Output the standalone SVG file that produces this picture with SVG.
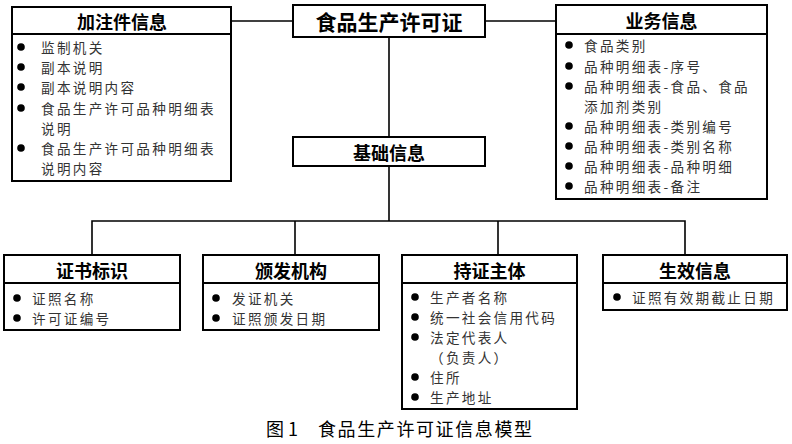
<svg xmlns="http://www.w3.org/2000/svg" width="792" height="444" viewBox="0 0 792 444">
<style>
.box{fill:#fff;stroke:#000;stroke-width:2}
.div{stroke:#000;stroke-width:2}
.ln{stroke:#000;stroke-width:1.6;fill:none}
.t{font-family:"Noto Sans CJK SC","Noto Sans",sans-serif;font-weight:bold;fill:#000;text-anchor:middle;dominant-baseline:central}
.it{font-family:"Noto Sans CJK SC","Noto Sans",sans-serif;font-size:13.6px;letter-spacing:2.3px;fill:#333;dominant-baseline:central}
.b{fill:#000}
.cap{font-family:"Noto Sans CJK SC","Noto Sans",sans-serif;font-size:18px;fill:#000;dominant-baseline:central}
</style>
<rect width="792" height="444" fill="#fff"/>
<g id="connectors">
<line class="ln" x1="231" y1="21" x2="293" y2="21"/>
<line class="ln" x1="485" y1="21" x2="556" y2="21"/>
<line class="ln" x1="389" y1="37" x2="389" y2="137"/>
<line class="ln" x1="389" y1="166" x2="389" y2="221"/>
<polyline class="ln" points="92,255 92,221 685,221 685,255"/>
<line class="ln" x1="295" y1="221" x2="295" y2="255"/>
<line class="ln" x1="498" y1="221" x2="498" y2="255"/>
</g>
<g id="jiazhujian">
<rect class="box" x="12" y="7" width="219" height="174"/>
<line class="div" x1="12" y1="34" x2="231" y2="34"/>
<text class="t" x="122" y="21" font-size="18">加注件信息</text>
<circle class="b" cx="21" cy="47" r="3.8"/><text class="it" x="41" y="47">监制机关</text>
<circle class="b" cx="21" cy="67" r="3.8"/><text class="it" x="41" y="67">副本说明</text>
<circle class="b" cx="21" cy="87" r="3.8"/><text class="it" x="41" y="87">副本说明内容</text>
<circle class="b" cx="21" cy="108" r="3.8"/><text class="it" x="41" y="108">食品生产许可品种明细表</text>
<text class="it" x="41" y="128">说明</text>
<circle class="b" cx="21" cy="148" r="3.8"/><text class="it" x="41" y="148">食品生产许可品种明细表</text>
<text class="it" x="41" y="168">说明内容</text>
</g>
<g id="root">
<rect class="box" x="293" y="5" width="192" height="32"/>
<text class="t" x="389" y="21" font-size="21">食品生产许可证</text>
</g>
<g id="yewu">
<rect class="box" x="556" y="5" width="211" height="194"/>
<line class="div" x1="556" y1="34" x2="767" y2="34"/>
<text class="t" x="661.5" y="20" font-size="18">业务信息</text>
<circle class="b" cx="569" cy="45" r="3.8"/><text class="it" x="584" y="45">食品类别</text>
<circle class="b" cx="569" cy="66" r="3.8"/><text class="it" x="584" y="66">品种明细表-序号</text>
<circle class="b" cx="569" cy="86" r="3.8"/><text class="it" x="584" y="86">品种明细表-食品、食品</text>
<text class="it" x="584" y="106">添加剂类别</text>
<circle class="b" cx="569" cy="126" r="3.8"/><text class="it" x="584" y="126">品种明细表-类别编号</text>
<circle class="b" cx="569" cy="146" r="3.8"/><text class="it" x="584" y="146">品种明细表-类别名称</text>
<circle class="b" cx="569" cy="166" r="3.8"/><text class="it" x="584" y="166">品种明细表-品种明细</text>
<circle class="b" cx="569" cy="186" r="3.8"/><text class="it" x="584" y="186">品种明细表-备注</text>
</g>
<g id="jichu">
<rect class="box" x="293" y="137" width="192" height="29"/>
<text class="t" x="389" y="152" font-size="18">基础信息</text>
</g>
<g id="zhengshu">
<rect class="box" x="4" y="255" width="176" height="75"/>
<line class="div" x1="4" y1="283" x2="180" y2="283"/>
<text class="t" x="92" y="270" font-size="18">证书标识</text>
<circle class="b" cx="17" cy="298" r="3.8"/><text class="it" x="32" y="298">证照名称</text>
<circle class="b" cx="17" cy="318" r="3.8"/><text class="it" x="32" y="318">许可证编号</text>
</g>
<g id="banfa">
<rect class="box" x="203" y="255" width="176" height="75"/>
<line class="div" x1="203" y1="283" x2="379" y2="283"/>
<text class="t" x="291" y="270" font-size="18">颁发机构</text>
<circle class="b" cx="216" cy="298" r="3.8"/><text class="it" x="232" y="298">发证机关</text>
<circle class="b" cx="216" cy="318" r="3.8"/><text class="it" x="232" y="318">证照颁发日期</text>
</g>
<g id="chizheng">
<rect class="box" x="402" y="255" width="175" height="154"/>
<line class="div" x1="402" y1="283" x2="577" y2="283"/>
<text class="t" x="489.5" y="270" font-size="18">持证主体</text>
<circle class="b" cx="415" cy="297" r="3.8"/><text class="it" x="430" y="297">生产者名称</text>
<circle class="b" cx="415" cy="317" r="3.8"/><text class="it" x="430" y="317">统一社会信用代码</text>
<circle class="b" cx="415" cy="337" r="3.8"/><text class="it" x="430" y="337">法定代表人</text>
<text class="it" x="430" y="357">（负责人）</text>
<circle class="b" cx="415" cy="377" r="3.8"/><text class="it" x="430" y="377">住所</text>
<circle class="b" cx="415" cy="397" r="3.8"/><text class="it" x="430" y="397">生产地址</text>
</g>
<g id="shengxiao">
<rect class="box" x="603" y="255" width="184" height="55"/>
<line class="div" x1="603" y1="283" x2="787" y2="283"/>
<text class="t" x="695" y="270" font-size="18">生效信息</text>
<circle class="b" cx="617" cy="297" r="3.8"/><text class="it" x="632" y="297">证照有效期截止日期</text>
</g>
<text class="cap" x="266" y="428">图 1</text>
<text class="cap" x="318" y="428" textLength="214">食品生产许可证信息模型</text>
</svg>
